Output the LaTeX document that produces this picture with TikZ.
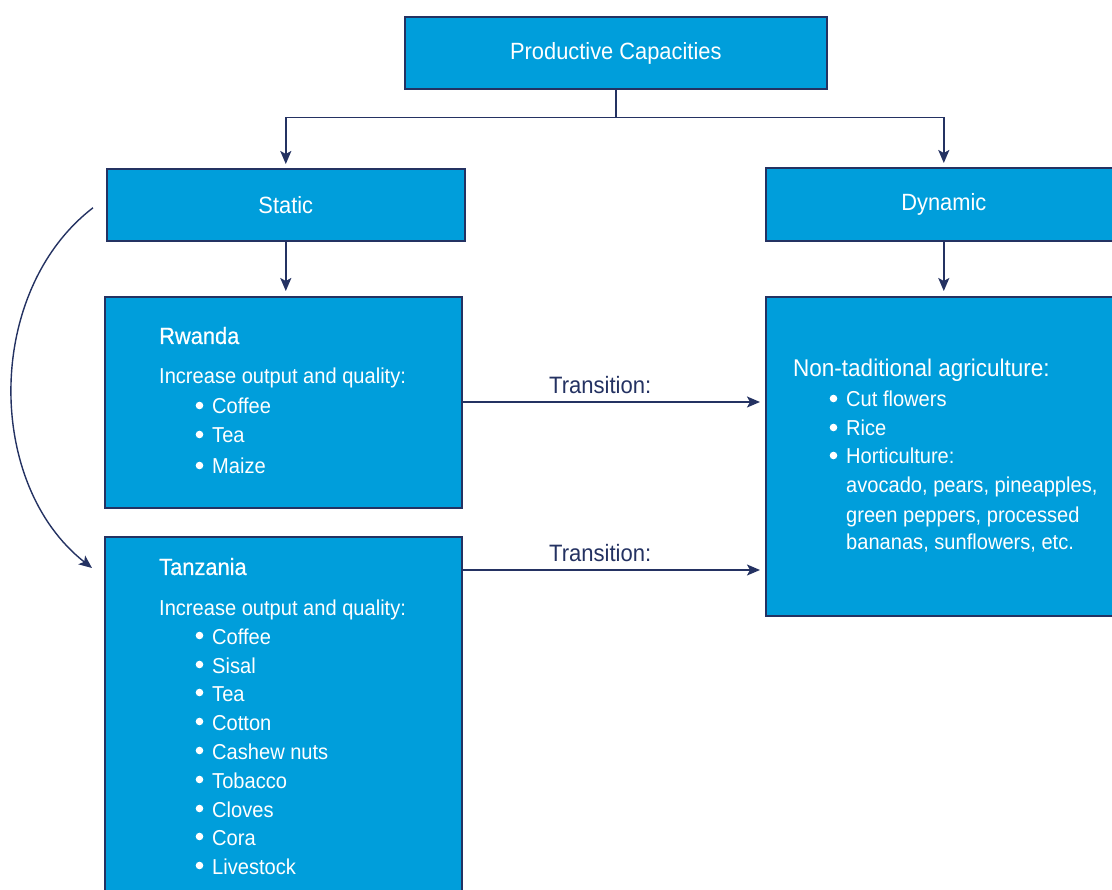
\documentclass[tikz,border=0pt]{standalone}
\usepackage{fontspec}
\setmainfont[FakeStretch=0.93]{Liberation Sans}
\newfontfamily\headfont[FakeStretch=0.93,FakeBold=0.5]{Liberation Sans}
\usetikzlibrary{arrows.meta}

\definecolor{boxblue}{RGB}{0,158,219}
\definecolor{navy}{RGB}{36,50,98}

\begin{document}
\begin{tikzpicture}[
		box/.style={rectangle, anchor=north west, fill=boxblue, draw=navy, line width=1.6pt, inner sep=0pt},
		lbl/.style={text=white, font=\fontsize{23.5}{26}\selectfont},
		line/.style={anchor=base west, inner sep=0pt, text=white, font=\fontsize{21.6}{24}\selectfont},
		head/.style={anchor=base west, inner sep=0pt, text=white, font=\headfont\fontsize{23.5}{26}\selectfont},
		link/.style={draw=navy, line width=1.8pt, -{Stealth[length=13pt,width=11pt,inset=3pt]}},
		trans/.style={text=navy, font=\fontsize{23.7}{26}\selectfont}
	]
	\clip (0pt,0pt) rectangle (1112pt,-890pt);
	\fill[white] (0pt,0pt) rectangle (1112pt,-890pt);

	% boxes
	\node (top) [box, minimum width=422pt, minimum height=72pt] at (404pt, -16pt) {};
	\node (static) [box, minimum width=358pt, minimum height=72pt] at (106pt, -168pt) {};
	\node (dynamic) [box, minimum width=356pt, minimum height=73pt] at (765pt, -167pt) {};
	\node (rwanda) [box, minimum width=357pt, minimum height=211pt] at (104pt, -296pt) {};
	\node (tanzania) [box, minimum width=357pt, minimum height=380pt] at (104pt, -536pt) {};
	\node (nontrad) [box, minimum width=356pt, minimum height=319pt] at (765pt, -296pt) {};

	\node (toplbl) [lbl, yshift=-1pt] at (top) {Productive Capacities};
	\node (staticlbl) [lbl] at (static) {Static};
	\node (dynamiclbl) [lbl] at (dynamic) {Dynamic};

	% Rwanda
	\node (rw0) [head] at (159pt, -344pt) {Rwanda};
	\node (rw1) [line] at (159pt, -384pt) {Increase output and quality:};
	\node (rw2) [line] at (212pt, -414pt) {Coffee};
	\node (rw3) [line] at (212pt, -443pt) {Tea};
	\node (rw4) [line] at (212pt, -474pt) {Maize};

	% Tanzania
	\node (tz0) [head] at (159pt, -575pt) {Tanzania};
	\node (tz1) [line] at (159pt, -615pt) {Increase output and quality:};
	\node (tz2) [line] at (212pt, -644pt) {Coffee};
	\node (tz3) [line] at (212pt, -673pt) {Sisal};
	\node (tz4) [line] at (212pt, -701pt) {Tea};
	\node (tz5) [line] at (212pt, -730pt) {Cotton};
	\node (tz6) [line] at (212pt, -759pt) {Cashew nuts};
	\node (tz7) [line] at (212pt, -788pt) {Tobacco};
	\node (tz8) [line] at (212pt, -817pt) {Cloves};
	\node (tz9) [line] at (212pt, -845pt) {Cora};
	\node (tz10) [line] at (212pt, -874pt) {Livestock};

	% non-traditional
	\node (nt0) [line, font=\fontsize{24.2}{26}\selectfont] at (793pt, -377pt) {Non-taditional agriculture:};
	\node (nt1) [line] at (846pt, -407pt) {Cut flowers};
	\node (nt2) [line] at (846pt, -436pt) {Rice};
	\node (nt3) [line] at (846pt, -464pt) {Horticulture:};
	\node (nt4) [line] at (846pt, -493pt) {avocado, pears, pineapples,};
	\node (nt5) [line] at (846pt, -522pt) {green peppers, processed};
	\node (nt6) [line] at (846pt, -550pt) {bananas, sunflowers, etc.};

	% bullets
	\foreach \n in {rw2,rw3,rw4,tz2,tz3,tz4,tz5,tz6,tz7,tz8,tz9,tz10,nt1,nt2,nt3}
		\fill[white] ([xshift=-12.5pt,yshift=8.5pt]\n.base west) circle (3.8pt);

	% connectors
	\draw [link, shorten >=4pt] (top.south) -- ++(0pt,-28pt) -| (static);
	\draw [link, shorten >=4pt] (top.south) -- ++(0pt,-28pt) -| (dynamic);
	\draw [link, shorten >=5pt] (static.south) -- (static.south |- rwanda.north);
	\draw [link, shorten >=5pt] (dynamic.south) -- (dynamic.south |- nontrad.north);

	\coordinate (t1) at ([yshift=-106pt]rwanda.north east);
	\coordinate (t2) at ([yshift=-34pt]tanzania.north east);
	\draw [link, shorten >=5pt] (t1) -- (t1 -| nontrad.west)
		node (tr1) [trans, pos=0.455, above=4pt] {Transition:};
	\draw [link, shorten >=5pt] (t2) -- (t2 -| nontrad.west)
		node (tr2) [trans, pos=0.455, above=4pt] {Transition:};

	\coordinate (c1) at ([xshift=-13pt,yshift=-3pt]static.west);
	\coordinate (c2) at ([xshift=-12pt,yshift=-32pt]tanzania.north west);
	\draw [link, line width=1.4pt] (c1) .. controls +(-108pt,-83pt) and +(-107pt,84pt) .. (c2);
\end{tikzpicture}
\end{document}
